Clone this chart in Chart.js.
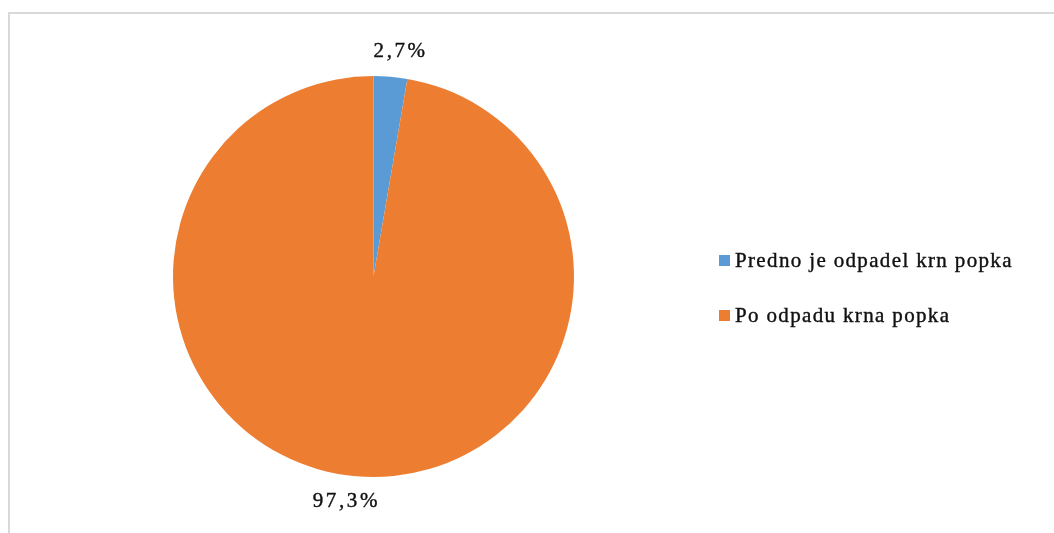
<!DOCTYPE html>
<html>
<head>
<meta charset="utf-8">
<script src="https://cdn.jsdelivr.net/npm/chart.js@4/dist/chart.umd.min.js"></script>
<style>
    html, body { margin: 0; padding: 0; background: #ffffff; overflow: hidden; }
    #wrap { position: relative; width: 1054px; height: 533px; }
    #frame {
        position: absolute; left: 8px; top: 12px;
        width: 1060px; height: 540px;
        border: 2px solid #d9d9d9; box-sizing: border-box;
    }
    #pie_chart { position: absolute; left: 0; top: 0; }
</style>
</head>
<body>
<div id="wrap">
    <div id="frame"></div>
    <canvas id="pie_chart" width="1054" height="533"></canvas>
</div>
<script>
const categories = ["Predno je odpadel krn popka", "Po odpadu krna popka"];
const values = [2.7, 97.3];
const valueLabels = ["2,7%", "97,3%"];
const colors = ["#5b9bd5", "#ed7d31"];

const FONT = '"Liberation Serif", "Times New Roman", serif';

// labels outside each slice
const outsideLabels = {
    id: "outsideLabels",
    afterDatasetsDraw(chart) {
        const ctx = chart.ctx;
        const meta = chart.getDatasetMeta(0);
        ctx.save();
        ctx.font = "21px " + FONT;
        ctx.letterSpacing = "2.6px";
        ctx.fillStyle = "#111111";
        ctx.strokeStyle = "#111111";
        ctx.lineWidth = 0.4;
        ctx.textAlign = "center";
        ctx.textBaseline = "middle";
        meta.data.forEach((arc, i) => {
            const mid = (arc.startAngle + arc.endAngle) / 2;
            const r = arc.outerRadius + 25;
            // push labels a bit sideways, away from the vertical axis
            const x = arc.x + Math.cos(mid) * r + Math.sign(Math.cos(mid)) * 8;
            const y = arc.y + Math.sin(mid) * r;
            ctx.fillText(valueLabels[i], x, y);
            ctx.strokeText(valueLabels[i], x, y);
        });
        ctx.restore();
    },
};

// legend on the right
const sideLegend = {
    id: "sideLegend",
    afterDraw(chart) {
        const ctx = chart.ctx;
        ctx.save();
        ctx.font = "21px " + FONT;
        ctx.letterSpacing = "1.35px";
        ctx.textBaseline = "middle";
        categories.forEach((name, i) => {
            const y = 261 + i * 55;
            ctx.fillStyle = colors[i];
            ctx.fillRect(719, y - 6, 11, 11);
            ctx.fillStyle = "#111111";
            ctx.strokeStyle = "#111111";
            ctx.lineWidth = 0.4;
            ctx.fillText(name, 735, y);
            ctx.strokeText(name, 735, y);
        });
        ctx.restore();
    },
};

new Chart(document.getElementById("pie_chart"), {
    type: "pie",
    data: {
        labels: categories,
        datasets: [
            {
                data: values,
                backgroundColor: colors,
                borderWidth: 0,
            },
        ],
    },
    options: {
        responsive: false,
        animation: false,
        layout: {
            padding: { top: 76, bottom: 56, left: 173, right: 480 },
        },
        plugins: {
            legend: { display: false },
            tooltip: { enabled: false },
        },
    },
    plugins: [outsideLabels, sideLegend],
});
</script>
</body>
</html>
